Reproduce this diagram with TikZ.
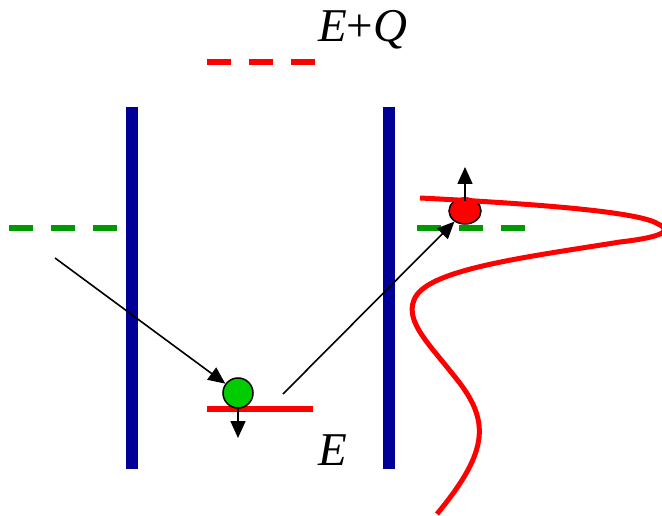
\documentclass[tikz,border=0pt]{standalone}
\usepackage{fontspec}
\setmainfont{Liberation Serif}
\usetikzlibrary{arrows.meta,shapes.geometric}
\definecolor{barblue}{RGB}{0,0,153}
\definecolor{lvlgreen}{RGB}{0,153,0}
\definecolor{ballgreen}{RGB}{0,204,0}
\definecolor{lvlred}{RGB}{255,0,0}
\begin{document}
\begin{tikzpicture}[x=1pt,y=-1pt,
  bar/.style={barblue,line width=12pt},
  dashlevel/.style={line width=6pt,dash pattern=on 24pt off 18pt},
  arr/.style={line width=1.6pt,-{Triangle[length=17pt,width=15pt]}},
  lbl/.style={inner sep=0pt,anchor=base west,font=\fontsize{47}{50}\selectfont}]
\useasboundingbox (0,0) rectangle (662,516);
% barriers
\draw[bar] (132,107) -- (132,469);
\draw[bar] (389,107) -- (389,469);
% levels
\draw[dashlevel,lvlgreen] (9,228) -- (120,228);
\draw[dashlevel,lvlgreen] (417,228) -- (528,228);
\draw[dashlevel,lvlred] (207,62) -- (318,62);
\draw[lvlred,line width=6pt] (207,409) -- (313,409);
% labels
\node[lbl] (eq) at (318,42) {\itshape E\upshape +\itshape Q};
\node[lbl] (e) at (318,465) {\itshape E};
% particles
\node[circle,draw,fill=ballgreen,minimum size=30pt,inner sep=0pt,line width=1.5pt] (g) at (238,393) {};
\node[ellipse,draw,fill=lvlred,minimum width=32pt,minimum height=26pt,inner sep=0pt,line width=1.5pt] (r) at (465,211) {};
% wave function
\draw[lvlred,line width=5pt] (420,198) .. controls (540,204) and (640,212) .. (658,224)
  .. controls (676,232) and (655,238) .. (620,242)
  .. controls (520,258) and (425,270) .. (414,300)
  .. controls (405,322) and (430,345) .. (455,377)
  .. controls (490,420) and (490,450) .. (437,514);
% connectors
\coordinate (s1) at (55,258);
\coordinate (s2) at (283,394);
\coordinate (gd) at (238,438);
\coordinate (rb) at (465,201);
\coordinate (ru) at (465,167);
\draw[arr] (s1) -- (g);
\draw[arr] (s2) -- (r);
\draw[arr] (g.south) -- (gd);
\draw[arr] (rb) -- (ru);
\end{tikzpicture}
\end{document}
